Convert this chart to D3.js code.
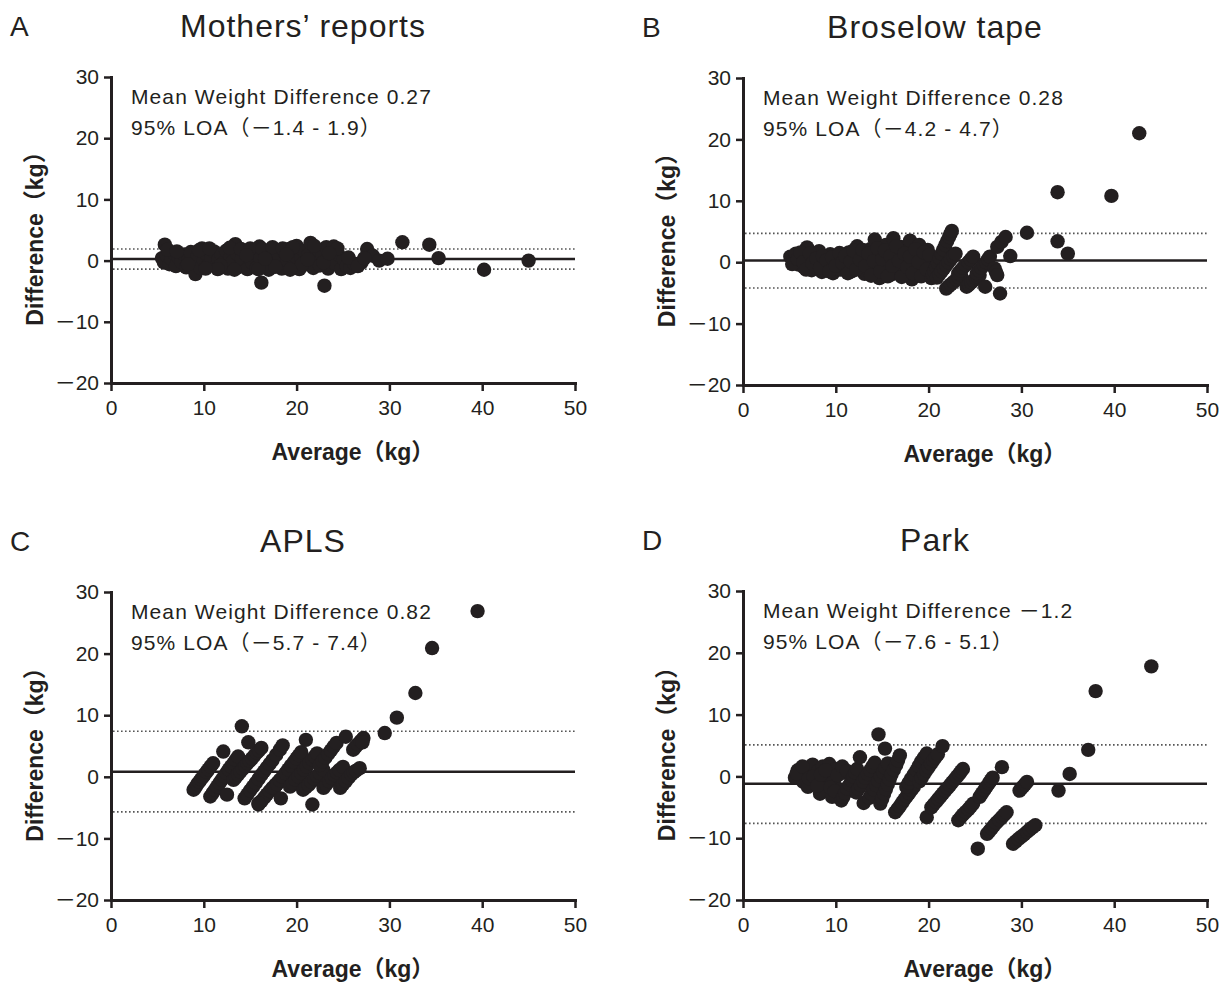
<!DOCTYPE html>
<html>
<head>
<meta charset="utf-8">
<script src="https://cdn.jsdelivr.net/npm/d3@7"></script>
<style>
  body { margin: 0; background: #fff; }
  text { font-family: "Liberation Sans", Arial, "Noto Sans CJK JP", sans-serif; fill: #231f20; }
</style>
</head>
<body>
<div id="chart-container"></div>
<script>
// Bland-Altman plots, 4 weight estimation methods

const panelLetters = ['A', 'B', 'C', 'D'];
const panelTitles = ['Mothers’ reports', 'Broselow tape', 'APLS', 'Park'];
const meanDiff = [0.27, 0.28, 0.82, -1.2];
const loaLow = [-1.4, -4.2, -5.7, -7.6];
const loaHigh = [1.9, 4.7, 7.4, 5.1];
const xTicks = [0, 10, 20, 30, 40, 50];
const yTicks = [-20, -10, 0, 10, 20, 30];

// [average, difference] in kg
const mothersPts = [[5.5,0.4],[5.7,-0.3],[5.8,2.6],[6.0,0.9],[6.3,-0.6],[6.5,0.3],[6.8,1.2],[7.0,-0.9],[7.3,0.5],[7.6,-0.2],
  [7.9,1.0],[8.1,-1.1],[8.4,0.2],[8.6,1.4],[8.9,-0.5],[9.1,-2.2],[9.3,0.6],[9.6,-1.2],[9.8,2.0],[10.0,0.1],
  [10.3,1.1],[10.5,-0.7],[10.8,0.4],[11.1,1.5],[11.3,-1.0],[11.6,0.2],[11.9,1.0],[12.1,-0.4],[12.4,1.6],[12.6,-1.3],
  [12.9,0.6],[13.1,-0.2],[13.4,2.7],[13.6,1.1],[13.9,-1.0],[14.1,0.3],[14.4,1.5],[14.7,-1.4],[14.9,0.7],[15.2,-0.3],
  [15.5,1.3],[15.7,-1.2],[16.0,2.3],[16.1,0.4],[16.2,-3.6],[16.5,-0.8],[16.8,1.2],[17.0,-1.5],[17.3,0.5],[17.6,1.6],
  [17.9,-0.6],[18.1,0.9],[18.4,-1.3],[18.7,1.4],[19.0,0.0],[19.2,1.9],[19.5,-1.0],[19.8,0.8],[20.0,2.4],[20.3,-1.4],
  [20.5,0.4],[20.8,1.6],[21.0,-0.6],[21.3,1.0],[21.5,2.9],[21.8,-1.2],[22.0,0.5],[22.3,1.8],[22.5,-0.8],[22.8,0.9],
  [23.0,-4.1],[23.2,2.2],[23.4,-1.3],[23.7,0.3],[24.0,2.3],[24.2,-0.5],[24.5,1.0],[24.8,-1.4],[25.1,0.2],[25.4,-0.9],
  [25.8,-1.2],[26.2,-0.5],[27.0,-0.3],[27.6,1.9],[28.2,0.8],[28.9,0.0],[29.8,0.3],[31.4,3.0],[34.3,2.6],[35.3,0.4],
  [40.2,-1.5],[45.0,0.0],
  [6.1,1.8],[7.1,1.5],[8.3,-0.6],[9.5,1.7],[10.6,2.0],[11.8,-0.8],[12.8,2.1],[14.0,1.9],[15.0,2.0],[16.3,1.9],
  [17.4,2.2],[18.5,2.0],[19.6,2.2],[20.6,-0.6],[21.9,2.4],[22.9,-0.3],[24.4,2.0],[19.3,-1.5],[17.7,-1.0],[15.9,-1.4],
  [13.3,-1.5],[11.5,-1.4],[10.2,-1.3],[14.6,0.9],[16.6,0.3],[18.9,1.0],[21.2,0.2],[23.5,1.2],[25.6,0.5],[26.6,-0.9],
  [27.3,0.4]];

const broselowPts = [[5.1,0.9],[5.4,0.2],[5.7,1.4],[6.0,-0.4],[6.3,0.7],[6.6,-0.9],[6.9,2.4],[7.1,0.3],[7.4,-1.3],[7.7,1.1],
  [8.0,-0.2],[8.2,1.8],[8.5,-1.6],[8.8,0.5],[9.1,-0.8],[9.4,1.3],[9.7,-1.8],[9.9,0.1],[10.2,1.0],[10.5,-1.2],
  [10.8,0.6],[11.1,-0.5],[11.4,1.6],[11.7,-1.5],[12.0,0.2],[12.3,2.6],[12.5,-0.8],[12.8,1.2],[13.1,-1.9],[13.4,0.6],
  [13.7,2.1],[14.0,-0.9],[14.2,3.7],[14.4,0.8],[14.7,-2.6],[14.9,1.6],[15.2,-1.2],[15.4,2.8],[15.7,0.1],[16.0,-2.0],
  [16.2,3.9],[16.4,1.2],[16.7,-0.9],[17.0,2.5],[17.2,-1.8],[17.5,0.6],[17.8,1.9],[18.0,3.5],[18.2,-2.8],[18.5,-0.4],
  [18.8,1.2],[19.0,2.8],[19.3,-1.6],[19.6,0.4],[19.9,2.0],[20.1,-0.8],
  [5.3,-0.3],[5.9,0.5],[6.2,1.6],[6.5,0.0],[6.8,-1.2],[7.2,1.4],[7.5,-0.2],[7.9,0.6],[8.3,-0.9],[8.6,1.0],
  [9.0,0.3],[9.3,-1.5],[9.6,0.8],[10.0,-0.6],[10.4,1.5],[10.7,-0.1],[11.0,1.0],[11.3,-1.8],[11.6,0.1],[11.9,1.9],
  [12.2,-1.2],[12.6,0.4],[12.9,2.0],[13.2,-0.6],[13.5,1.4],[13.8,-2.2],[14.1,0.2],[14.5,2.3],[14.8,-1.5],[15.0,0.5],
  [15.3,1.9],[15.6,-2.3],[15.9,1.0],[16.1,-0.6],[16.5,2.6],[16.8,0.2],[17.1,-2.4],[17.4,1.4],[17.7,-0.8],[18.0,0.9],
  [18.3,-1.8],[18.6,2.1],[18.9,0.0],[19.2,-2.3],[19.5,1.6],[19.8,-1.2],[20.1,1.2],
  [20.3,-2.6],[20.45,-2.0],[20.6,-1.4],[20.8,-0.75],[21.0,-0.1],[21.2,0.65],[21.4,1.4],[21.6,2.1],[21.8,2.8],[22.0,3.45],
  [22.2,4.1],[22.35,4.6],[22.5,5.1],
  [20.9,-2.5],[21.15,-2.0],[21.4,-1.5],[21.65,-1.0],[21.9,-0.5],[22.15,0.0],[22.4,0.5],[22.65,0.95],[22.9,1.4],
  [21.9,-4.3],[22.15,-3.95],[22.4,-3.6],[22.7,-3.2],[23.0,-2.8],[23.25,-2.45],[23.5,-2.1],
  [23.2,-1.8],[23.45,-1.35],[23.7,-0.9],[24.0,-0.45],[24.3,0.0],[24.55,0.45],[24.8,0.9],
  [24.1,-4.0],[24.35,-3.65],[24.6,-3.3],[24.85,-2.95],[25.1,-2.6],[25.3,-2.35],[25.5,-2.1],
  [25.2,-1.8],[25.45,-1.35],[25.7,-0.9],[25.95,-0.45],[26.2,0.0],[26.4,0.45],[26.6,0.9],
  [26.1,-4.0],[27.1,-1.0],[27.25,-1.55],[27.4,-2.1],[27.7,-5.1],[27.4,2.5],[27.85,3.3],[28.3,4.1],[28.8,1.0],[30.6,4.8],
  [33.9,11.4],[33.9,3.4],[35.0,1.4],[39.7,10.8],[42.7,21.0]];

const aplsPts = [[8.9,-2.1],[9.1,-1.7],[9.3,-1.2],[9.5,-0.8],[9.7,-0.4],[9.9,0.0],[10.1,0.4],[10.3,0.8],[10.5,1.2],[10.75,1.7],[11.0,2.2],
  [10.7,-3.2],[10.95,-2.65],[11.2,-2.1],[11.45,-1.55],[11.7,-1.0],[11.95,-0.45],[12.2,0.1],[12.45,0.65],[12.7,1.2],[12.95,1.7],[13.2,2.2],[13.45,2.75],[13.7,3.3],
  [13.2,-0.5],[13.45,-0.05],[13.7,0.4],[13.95,0.85],[14.2,1.3],[14.45,1.75],[14.7,2.2],[14.95,2.6],[15.2,3.0],[15.45,3.45],[15.7,3.9],[15.95,4.3],[16.2,4.7],
  [14.4,-3.5],[14.7,-2.85],[15.0,-2.2],[15.3,-1.6],[15.6,-1.0],[15.9,-0.35],[16.2,0.3],[16.5,0.9],[16.8,1.5],[17.1,2.1],[17.4,2.7],[17.8,3.55],[18.2,4.4],
  [15.9,-4.5],[16.2,-3.95],[16.5,-3.4],[16.8,-2.85],[17.1,-2.3],[17.4,-1.8],[17.7,-1.3],[18.0,-0.9],[18.2,-0.5],
  [17.6,-1.8],[17.9,-1.2],[18.2,-0.6],[18.5,0.0],[18.8,0.6],[19.1,1.2],[19.4,1.8],[19.7,2.4],[20.0,3.0],[20.25,3.5],[20.5,4.0],
  [19.3,-1.6],[19.6,-1.05],[19.9,-0.5],[20.2,0.05],[20.5,0.6],[20.8,1.15],[21.1,1.7],[21.4,2.25],[21.7,2.8],[21.95,3.3],[22.2,3.8],
  [20.7,-2.1],[21.0,-1.7],[21.3,-1.3],[21.6,-0.8],[21.9,-0.3],[22.2,0.15],[22.5,0.6],[22.9,1.1],
  [22.9,-1.8],[23.2,-1.25],[23.5,-0.7],[23.8,-0.2],[24.1,0.3],[24.35,0.7],[24.6,1.1],[25.0,1.6],
  [24.7,-1.8],[25.0,-1.25],[25.3,-0.7],[25.6,-0.15],[25.9,0.4],[26.15,0.7],[26.4,1.0],[26.8,1.4],
  [22.5,1.9],[22.8,2.5],[23.1,3.1],[23.4,3.7],[23.7,4.3],[24.0,4.9],[24.3,5.5],
  [26.1,4.4],[26.35,4.85],[26.6,5.3],[26.9,5.8],[27.2,6.3],
  [12.1,4.1],[14.1,8.2],[14.8,5.6],[12.5,-2.9],[15.9,-4.3],[18.3,-3.5],[21.7,-4.5],[18.5,5.1],[21.0,6.0],[25.3,6.5],
  [27.1,5.6],[29.5,7.1],[30.8,9.6],[32.8,13.6],[34.6,20.9],[39.5,26.9]];

const parkPts = [[5.6,-0.2],[5.9,1.0],[6.2,0.3],[6.5,-0.9],[6.8,1.4],[7.0,-1.7],[7.3,0.5],[7.5,1.9],[7.8,-0.6],[8.1,0.9],
  [8.3,-2.8],[8.6,1.6],[8.8,-1.2],[9.1,0.2],[9.3,2.0],[9.6,-3.3],[9.8,-0.8],[10.0,1.2],[10.3,-2.2],[10.5,0.5],
  [5.8,0.5],[6.4,1.6],[7.1,-0.3],[7.6,0.0],[8.0,-1.5],[8.4,0.3],[8.9,1.0],[9.4,-1.8],[9.9,-2.4],[10.2,0.2],[10.7,1.6],[11.2,0.9],
  [10.6,-3.9],[10.8,-3.3],[11.0,-2.7],[11.25,-2.0],[11.5,-1.3],[11.7,-0.65],[11.9,0.0],[12.1,0.6],[12.3,1.2],
  [12.6,3.1],[13.0,-4.3],
  [12.2,-2.6],[12.45,-2.0],[12.7,-1.4],[12.95,-0.8],[13.2,-0.2],[13.45,0.4],[13.7,1.0],[13.95,1.6],[14.2,2.2],
  [13.6,-3.5],[13.85,-2.8],[14.1,-2.1],[14.35,-1.4],[14.6,-0.7],[14.85,0.0],[15.1,0.7],[15.35,1.4],[15.6,2.1],
  [14.8,-4.4],[15.0,-3.6],[15.2,-2.8],[15.4,-2.05],[15.6,-1.3],[15.8,-0.5],[16.0,0.3],[16.25,1.05],[16.5,1.8],[16.7,2.6],[16.9,3.4],
  [14.6,6.8],[15.3,4.5],
  [16.4,-5.8],[16.65,-5.3],[16.9,-4.8],[17.15,-4.25],[17.4,-3.7],[17.65,-3.2],[17.9,-2.7],[18.15,-2.2],[18.4,-1.7],
  [17.6,-1.7],[17.85,-1.05],[18.1,-0.4],[18.4,0.3],[18.7,1.0],[18.95,1.7],[19.2,2.4],[19.5,3.05],[19.8,3.7],
  [19.0,-0.8],[19.25,-0.2],[19.5,0.4],[19.75,0.95],[20.0,1.5],[20.25,2.05],[20.5,2.6],[20.75,3.1],[21.0,3.6],
  [21.5,4.9],[19.8,-6.6],
  [20.3,-5.0],[20.55,-4.55],[20.8,-4.1],[21.05,-3.65],[21.3,-3.2],[21.55,-2.75],[21.8,-2.3],[22.05,-1.85],[22.3,-1.4],[22.55,-0.95],
  [22.8,-0.5],[23.05,-0.05],[23.3,0.4],[23.5,0.8],[23.7,1.2],
  [23.2,-7.1],[23.45,-6.65],[23.7,-6.2],[24.0,-5.75],[24.3,-5.3],[24.55,-4.85],[24.8,-4.4],
  [25.5,-3.3],[25.75,-2.75],[26.0,-2.2],[26.25,-1.65],[26.5,-1.1],[26.7,-0.65],[26.9,-0.2],
  [27.9,1.5],[25.3,-11.7],
  [26.3,-9.3],[26.55,-8.85],[26.8,-8.4],[27.05,-7.95],[27.3,-7.5],[27.6,-7.05],[27.9,-6.6],[28.15,-6.2],[28.4,-5.8],
  [29.8,-2.3],[30.0,-1.95],[30.2,-1.6],[30.4,-1.25],[30.6,-0.9],
  [29.1,-10.9],[29.4,-10.5],[29.7,-10.1],[30.0,-9.75],[30.3,-9.4],[30.6,-9.0],[30.9,-8.6],[31.2,-8.25],[31.5,-7.9],
  [34.0,-2.3],[35.2,0.4],[37.2,4.3],[38.0,13.8],[44.0,17.8]];

const panelPts = [mothersPts, broselowPts, aplsPts, parkPts];

// plot areas in page pixels
const frames = [
  {left: 111, right: 575, top: 77, bottom: 383},
  {left: 743, right: 1207, top: 78, bottom: 385},
  {left: 111, right: 575, top: 592, bottom: 900},
  {left: 743, right: 1207, top: 591, bottom: 900}
];

// long minus like the original
const fmt = d => d < 0 ? '－' + Math.abs(d) : String(d);

class baPanel {

  constructor(svg, i) {
    this.svg = svg;
    this.i = i;
    this.f = frames[i];
    this.pts = panelPts[i];
  }

  updateScales() {
    this.x = d3.scaleLinear().domain([0, 50]).range([this.f.left, this.f.right]);
    this.y = d3.scaleLinear().domain([-20, 30]).range([this.f.bottom, this.f.top]);
    return this;
  }

  makePlot() {
    let f = this.f, x = this.x, y = this.y, i = this.i;
    let g = this.svg.append('g');

    // letter + title
    g.append('text')
      .attr('x', f.left - 101).attr('y', f.top - 41)
      .attr('font-size', 28)
      .text(panelLetters[i]);

    g.append('text')
      .attr('x', f.left + 192).attr('y', f.top - 40)
      .attr('text-anchor', 'middle')
      .attr('font-size', 32)
      .attr('letter-spacing', 1)
      .text(panelTitles[i]);

    // LOA and mean lines
    [loaLow[i], loaHigh[i]].forEach(v => {
      g.append('line')
        .attr('x1', x(0) + 2).attr('x2', x(50))
        .attr('y1', y(v)).attr('y2', y(v))
        .attr('stroke', '#555').attr('stroke-width', 1.6)
        .attr('stroke-dasharray', '1.6,2.4');
    });

    g.append('line')
      .attr('x1', x(0)).attr('x2', x(50))
      .attr('y1', y(meanDiff[i])).attr('y2', y(meanDiff[i]))
      .attr('stroke', '#231f20').attr('stroke-width', 2.6);

    g.append('g')
      .selectAll('circle')
      .data(this.pts)
      .join('circle')
      .attr('cx', d => x(d[0]))
      .attr('cy', d => y(d[1]))
      .attr('r', 7.2)
      .attr('fill', '#231f20');

    // axes
    let xAxis = g.append('g')
      .attr('transform', `translate(0,${y(-20)})`)
      .call(d3.axisBottom(x).tickValues(xTicks).tickSize(8).tickPadding(9).tickSizeOuter(0))
      .attr('font-size', 21);

    let yAxis = g.append('g')
      .attr('transform', `translate(${x(0)},0)`)
      .call(d3.axisLeft(y).tickValues(yTicks).tickFormat(fmt).tickSize(7).tickPadding(5).tickSizeOuter(0))
      .attr('font-size', 21);

    [xAxis, yAxis].forEach(a => {
      a.select('.domain').attr('stroke', '#231f20').attr('stroke-width', 3).attr('stroke-linecap', 'square');
      a.selectAll('.tick line').attr('stroke', '#231f20').attr('stroke-width', 2.5);
    });

    // annotation
    g.append('text')
      .attr('x', f.left + 20).attr('y', f.top + 27)
      .attr('font-size', 21).attr('letter-spacing', 1.1)
      .text('Mean Weight Difference ' + fmt(meanDiff[i]));

    g.append('text')
      .attr('x', f.left + 20).attr('y', f.top + 58)
      .attr('font-size', 21).attr('letter-spacing', 1.1)
      .text(`95% LOA（${fmt(loaLow[i])} - ${fmt(loaHigh[i])}）`);

    // axis titles
    g.append('text')
      .attr('x', (f.left + f.right) / 2 + 10).attr('y', f.bottom + 77)
      .attr('text-anchor', 'middle')
      .attr('font-size', 23).attr('font-weight', 'bold')
      .text('Average（kg）');

    g.append('text')
      .attr('transform', `translate(${f.left - 68},${(f.top + f.bottom) / 2 + 3}) rotate(-90)`)
      .attr('text-anchor', 'middle')
      .attr('font-size', 23).attr('font-weight', 'bold')
      .text('Difference（kg）');
  }
}

let svg = d3.select('#chart-container')
  .append('svg')
  .attr('width', 1227)
  .attr('height', 982);

panelLetters.forEach((l, i) => {
  new baPanel(svg, i).updateScales().makePlot();
});
</script>
</body>
</html>
